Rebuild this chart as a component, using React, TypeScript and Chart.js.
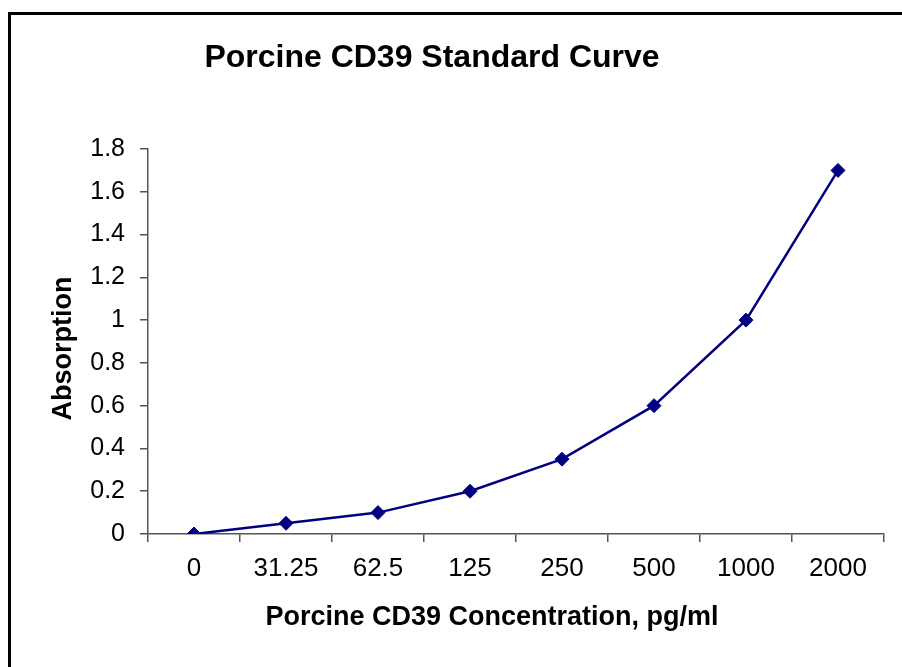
import React, { useEffect, useRef } from "react";
import { Chart, registerables } from "chart.js";

Chart.register(...registerables);

const chartTitle = "Porcine CD39 Standard Curve";
const xAxisTitle = "Porcine CD39 Concentration, pg/ml";
const yAxisTitle = "Absorption";
const categories = ["0", "31.25", "62.5", "125", "250", "500", "1000", "2000"];
const absorption = [0, 0.05, 0.1, 0.2, 0.35, 0.6, 1.0, 1.7];
const yMin = 0;
const yMax = 1.8;
const yStep = 0.2;

const FONT = "'Liberation Sans', Arial, sans-serif";

const textPlugin = {
  id: "customTexts",
  afterDraw(chart: any) {
    const { ctx, chartArea } = chart;
    const cx = (chartArea.left + chartArea.right) / 2;
    const cy = (chartArea.top + chartArea.bottom) / 2;
    ctx.save();
    ctx.fillStyle = "#000";
    ctx.textAlign = "center";
    ctx.textBaseline = "middle";
    ctx.font = `bold 32px ${FONT}`;
    ctx.fillText(chartTitle, cx - 84, 43);
    ctx.font = `bold 27px ${FONT}`;
    ctx.fillText(xAxisTitle, cx - 24, chartArea.bottom + 84);
    ctx.translate(chartArea.left - 84, cy + 7);
    ctx.rotate(-Math.PI / 2);
    ctx.font = `bold 27px ${FONT}`;
    ctx.fillText(yAxisTitle, 0, 0);
    ctx.restore();
  },
};

export default function App() {
  const ref = useRef<HTMLCanvasElement>(null);
  useEffect(() => {
    if (!ref.current) return;
    const chart = new Chart(ref.current, {
      type: "line",
      data: {
        labels: categories,
        datasets: [
          {
            data: absorption,
            borderColor: "#000080",
            backgroundColor: "#000080",
            borderWidth: 2.5,
            pointStyle: "rectRot",
            pointRadius: 7,
            pointBorderWidth: 1,
            tension: 0,
          },
        ],
      },
      options: {
        animation: false,
        responsive: true,
        maintainAspectRatio: false,
        layout: { padding: { top: 134, right: 18, left: 0, bottom: 0 } },
        plugins: { legend: { display: false }, tooltip: { enabled: false } },
        scales: {
          x: {
            offset: true,
            afterFit: (s: any) => {
              s.height = 133;
            },
            grid: {
              offset: true,
              drawOnChartArea: false,
              drawTicks: true,
              tickLength: 8,
              color: "#555",
              lineWidth: 1.5,
            },
            border: { display: true, color: "#555", width: 1.5 },
            ticks: {
              color: "#000",
              font: { family: FONT, size: 26 },
              padding: 11,
              maxRotation: 0,
              autoSkip: false,
            },
          },
          y: {
            min: yMin,
            max: yMax,
            afterFit: (s: any) => {
              s.width = 137;
            },
            grid: {
              drawOnChartArea: false,
              drawTicks: true,
              tickLength: 8,
              color: "#555",
              lineWidth: 1.5,
            },
            border: { display: true, color: "#555", width: 1.5 },
            ticks: {
              stepSize: yStep,
              color: "#000",
              font: { family: FONT, size: 25 },
              padding: 15,
              callback: (v: any) => String(Number(Number(v).toFixed(1))),
            },
          },
        },
      },
      plugins: [textPlugin],
    });
    return () => chart.destroy();
  }, []);

  return (
    <div
      style={{
        position: "absolute",
        left: 8,
        top: 12,
        width: 894,
        height: 655,
        boxSizing: "border-box",
        borderTop: "3px solid #000",
        borderLeft: "3px solid #000",
        background: "#fff",
      }}
    >
      <div style={{ position: "relative", width: 891, height: 652 }}>
        <canvas ref={ref} />
      </div>
    </div>
  );
}
